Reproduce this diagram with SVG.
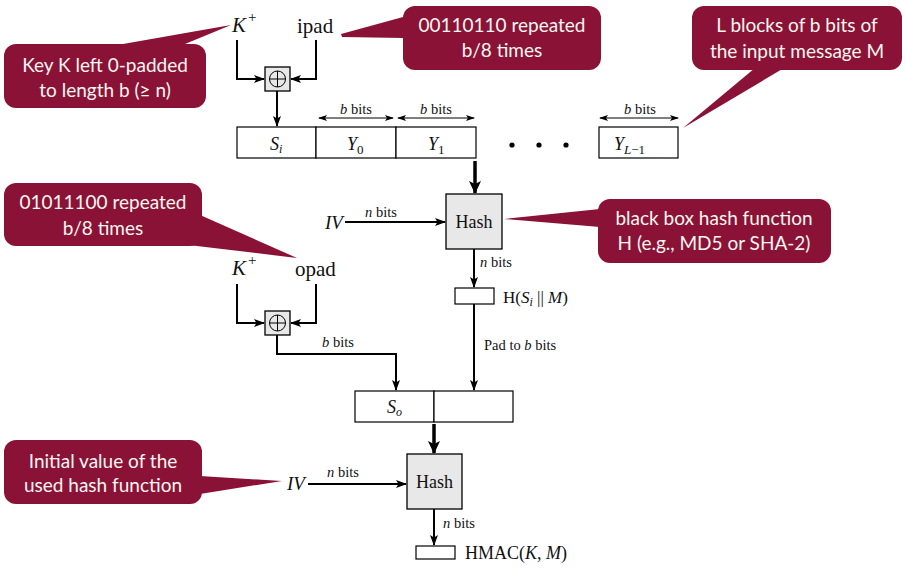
<svg xmlns="http://www.w3.org/2000/svg" width="906" height="568" viewBox="0 0 906 568">
<style>
.c{fill:#8a1236}
.ct{font-family:Lato,"Open Sans",sans-serif;font-size:19px;fill:#fbf5f0;text-anchor:middle}
.t{font-family:"Liberation Serif","Times New Roman",serif;fill:#111}
.it{font-style:italic}
.ln{fill:none;stroke:#000;stroke-width:2}
.dim{fill:none;stroke:#000;stroke-width:1}
.thk{fill:none;stroke:#000;stroke-width:3.5}
.box{fill:#fff;stroke:#000;stroke-width:1.2}
.hb{fill:#e8e8e8;stroke:#000;stroke-width:1.3}
.lbl{font-size:14.5px}
</style>
<defs>
<marker id="a" markerUnits="userSpaceOnUse" markerWidth="12" markerHeight="10" refX="10" refY="4" orient="auto"><path d="M0,0 L11,4 L0,8 L2.5,4 z" fill="#000"/></marker>
<marker id="ad" markerUnits="userSpaceOnUse" markerWidth="10" markerHeight="8" refX="8" refY="3" orient="auto-start-reverse"><path d="M0,0 L9,3 L0,6 L2,3 z" fill="#000"/></marker>
<marker id="at" markerUnits="userSpaceOnUse" markerWidth="14" markerHeight="14" refX="12" refY="6" orient="auto"><path d="M0,0 L13,6 L0,12 L3,6 z" fill="#000"/></marker>
</defs>

<g id="callout-key">
<path class="c" d="M123,44 L231,25 L185,44 z"/>
<rect class="c" x="4" y="44" width="202" height="64" rx="12"/>
<text class="ct" x="105" y="72">Key K left 0-padded</text>
<text class="ct" x="105" y="97">to length b (≥ n)</text>
</g>
<g id="callout-ipad">
<path class="c" d="M403,17 L341,34 L342,37 L403,38 z"/>
<rect class="c" x="403" y="6" width="198" height="64" rx="12"/>
<text class="ct" x="502" y="32">00110110 repeated</text>
<text class="ct" x="502" y="57">b/8 times</text>
</g>
<g id="callout-blocks">
<path class="c" d="M755,68 L683,128 L784,68 z"/>
<rect class="c" x="692" y="6" width="210" height="64" rx="12"/>
<text class="ct" x="797" y="32">L blocks of b bits of</text>
<text class="ct" x="797" y="58">the input message M</text>
</g>
<g id="callout-hash">
<path class="c" d="M600,209 L504,219 L600,227 z"/>
<rect class="c" x="598" y="199" width="233" height="64" rx="12"/>
<text class="ct" x="714" y="225">black box hash function</text>
<text class="ct" x="714" y="250">H (e.g., MD5 or SHA-2)</text>
</g>
<g id="callout-opad">
<path class="c" d="M200,215 L297,258 L180,244 z"/>
<rect class="c" x="4" y="183" width="198" height="63" rx="12"/>
<text class="ct" x="103" y="209">01011100 repeated</text>
<text class="ct" x="103" y="235">b/8 times</text>
</g>
<g id="callout-iv">
<path class="c" d="M200,476 L282,481 L200,494 z"/>
<rect class="c" x="4" y="440" width="198" height="64" rx="12"/>
<text class="ct" x="103" y="468">Initial value of the</text>
<text class="ct" x="103" y="492">used hash function</text>
</g>

<g id="connectors">
<path class="ln" d="M237,40 V79 H264" marker-end="url(#a)"/>
<path class="ln" d="M316,40 V79 H291" marker-end="url(#a)"/>
<path class="ln" d="M277,91 V126" marker-end="url(#a)"/>
<path class="dim" d="M319,118 H393" marker-start="url(#ad)" marker-end="url(#ad)"/>
<path class="dim" d="M398,118 H474" marker-start="url(#ad)" marker-end="url(#ad)"/>
<path class="dim" d="M600,118 H678" marker-start="url(#ad)" marker-end="url(#ad)"/>
<path class="thk" d="M475,161 V193" marker-end="url(#at)"/>
<path class="ln" d="M345,222 H445" marker-end="url(#a)"/>
<path class="ln" d="M474,249 V287" marker-end="url(#a)"/>
<path class="ln" d="M474,304 V390" marker-end="url(#a)"/>
<path class="ln" d="M237,284 V323 H264" marker-end="url(#a)"/>
<path class="ln" d="M316,284 V323 H291" marker-end="url(#a)"/>
<path class="ln" d="M277,335 V354 H396 V390" marker-end="url(#a)"/>
<path class="thk" d="M434,424 V453" marker-end="url(#at)"/>
<path class="ln" d="M308,484 H406" marker-end="url(#a)"/>
<path class="ln" d="M434,509 V545" marker-end="url(#a)"/>
</g>

<g id="kplus1"><text class="t it" x="232" y="32" font-size="21">K</text><text class="t" x="248" y="22" font-size="15">+</text></g>
<g id="ipad"><text class="t" x="297" y="33" font-size="21">ipad</text></g>
<g id="xor1">
<rect class="hb" x="265" y="67" width="25" height="24"/>
<circle cx="277.5" cy="79" r="8" fill="none" stroke="#000" stroke-width="1"/>
<path d="M269.5,79 H285.5 M277.5,71 V87" stroke="#000" stroke-width="1"/>
</g>

<g id="blocks">
<rect class="box" x="237" y="127" width="79" height="31"/>
<rect class="box" x="316" y="127" width="80" height="31"/>
<rect class="box" x="396" y="127" width="80" height="31"/>
<rect class="box" x="599" y="127" width="79" height="31"/>
<text class="t it" x="270" y="150" font-size="18">S<tspan font-size="12" dy="3">i</tspan></text>
<text class="t it" x="347" y="150" font-size="18">Y<tspan font-size="13" dy="4" font-style="normal">0</tspan></text>
<text class="t it" x="428" y="150" font-size="18">Y<tspan font-size="13" dy="4" font-style="normal">1</tspan></text>
<text class="t it" x="614" y="150" font-size="18">Y<tspan font-size="13" dy="4">L</tspan><tspan font-size="13" font-style="normal">−1</tspan></text>
<text class="t lbl" x="356" y="114" text-anchor="middle"><tspan class="it">b</tspan> bits</text>
<text class="t lbl" x="436" y="114" text-anchor="middle"><tspan class="it">b</tspan> bits</text>
<text class="t lbl" x="640" y="114" text-anchor="middle"><tspan class="it">b</tspan> bits</text>
<circle cx="512" cy="145" r="2.6" fill="#000"/>
<circle cx="539" cy="145" r="2.6" fill="#000"/>
<circle cx="566" cy="145" r="2.6" fill="#000"/>
</g>

<g id="iv1"><text class="t it" x="325" y="229" font-size="19">IV</text><text class="t lbl" x="365" y="217"><tspan class="it">n</tspan> bits</text></g>
<g id="hash1"><rect class="hb" x="446" y="194" width="56" height="55"/><text class="t" x="474" y="228" font-size="18" text-anchor="middle">Hash</text></g>
<g id="inner-out">
<text class="t lbl" x="480" y="267"><tspan class="it">n</tspan> bits</text>
<rect class="box" x="455" y="288" width="39" height="16"/>
<text class="t" x="503" y="303" font-size="17">H(<tspan class="it">S</tspan><tspan class="it" font-size="12" dy="3">i</tspan><tspan dy="-3"> || </tspan><tspan class="it">M</tspan>)</text>
<text class="t lbl" x="484" y="350">Pad to <tspan class="it">b</tspan> bits</text>
</g>

<g id="kplus2"><text class="t it" x="232" y="275" font-size="21">K</text><text class="t" x="248" y="265" font-size="15">+</text></g>
<g id="opad"><text class="t" x="295" y="276" font-size="21">opad</text></g>
<g id="xor2">
<rect class="hb" x="265" y="311" width="25" height="24"/>
<circle cx="277.5" cy="323" r="8" fill="none" stroke="#000" stroke-width="1"/>
<path d="M269.5,323 H285.5 M277.5,315 V331" stroke="#000" stroke-width="1"/>
<text class="t lbl" x="322" y="347"><tspan class="it">b</tspan> bits</text>
</g>

<g id="outer-block">
<rect class="box" x="355" y="391" width="79" height="31"/>
<rect class="box" x="434" y="391" width="79" height="31"/>
<text class="t it" x="387" y="413" font-size="18">S<tspan font-size="12" dy="3">o</tspan></text>
</g>

<g id="iv2"><text class="t it" x="287" y="490" font-size="19">IV</text><text class="t lbl" x="327" y="477"><tspan class="it">n</tspan> bits</text></g>
<g id="hash2"><rect class="hb" x="407" y="454" width="55" height="55"/><text class="t" x="434.5" y="488" font-size="18" text-anchor="middle">Hash</text></g>
<g id="hmac">
<text class="t lbl" x="443" y="528"><tspan class="it">n</tspan> bits</text>
<rect class="box" x="416" y="546" width="39" height="13"/>
<text class="t" x="465" y="559" font-size="18">HMAC(<tspan class="it">K</tspan>, <tspan class="it">M</tspan>)</text>
</g>
</svg>
